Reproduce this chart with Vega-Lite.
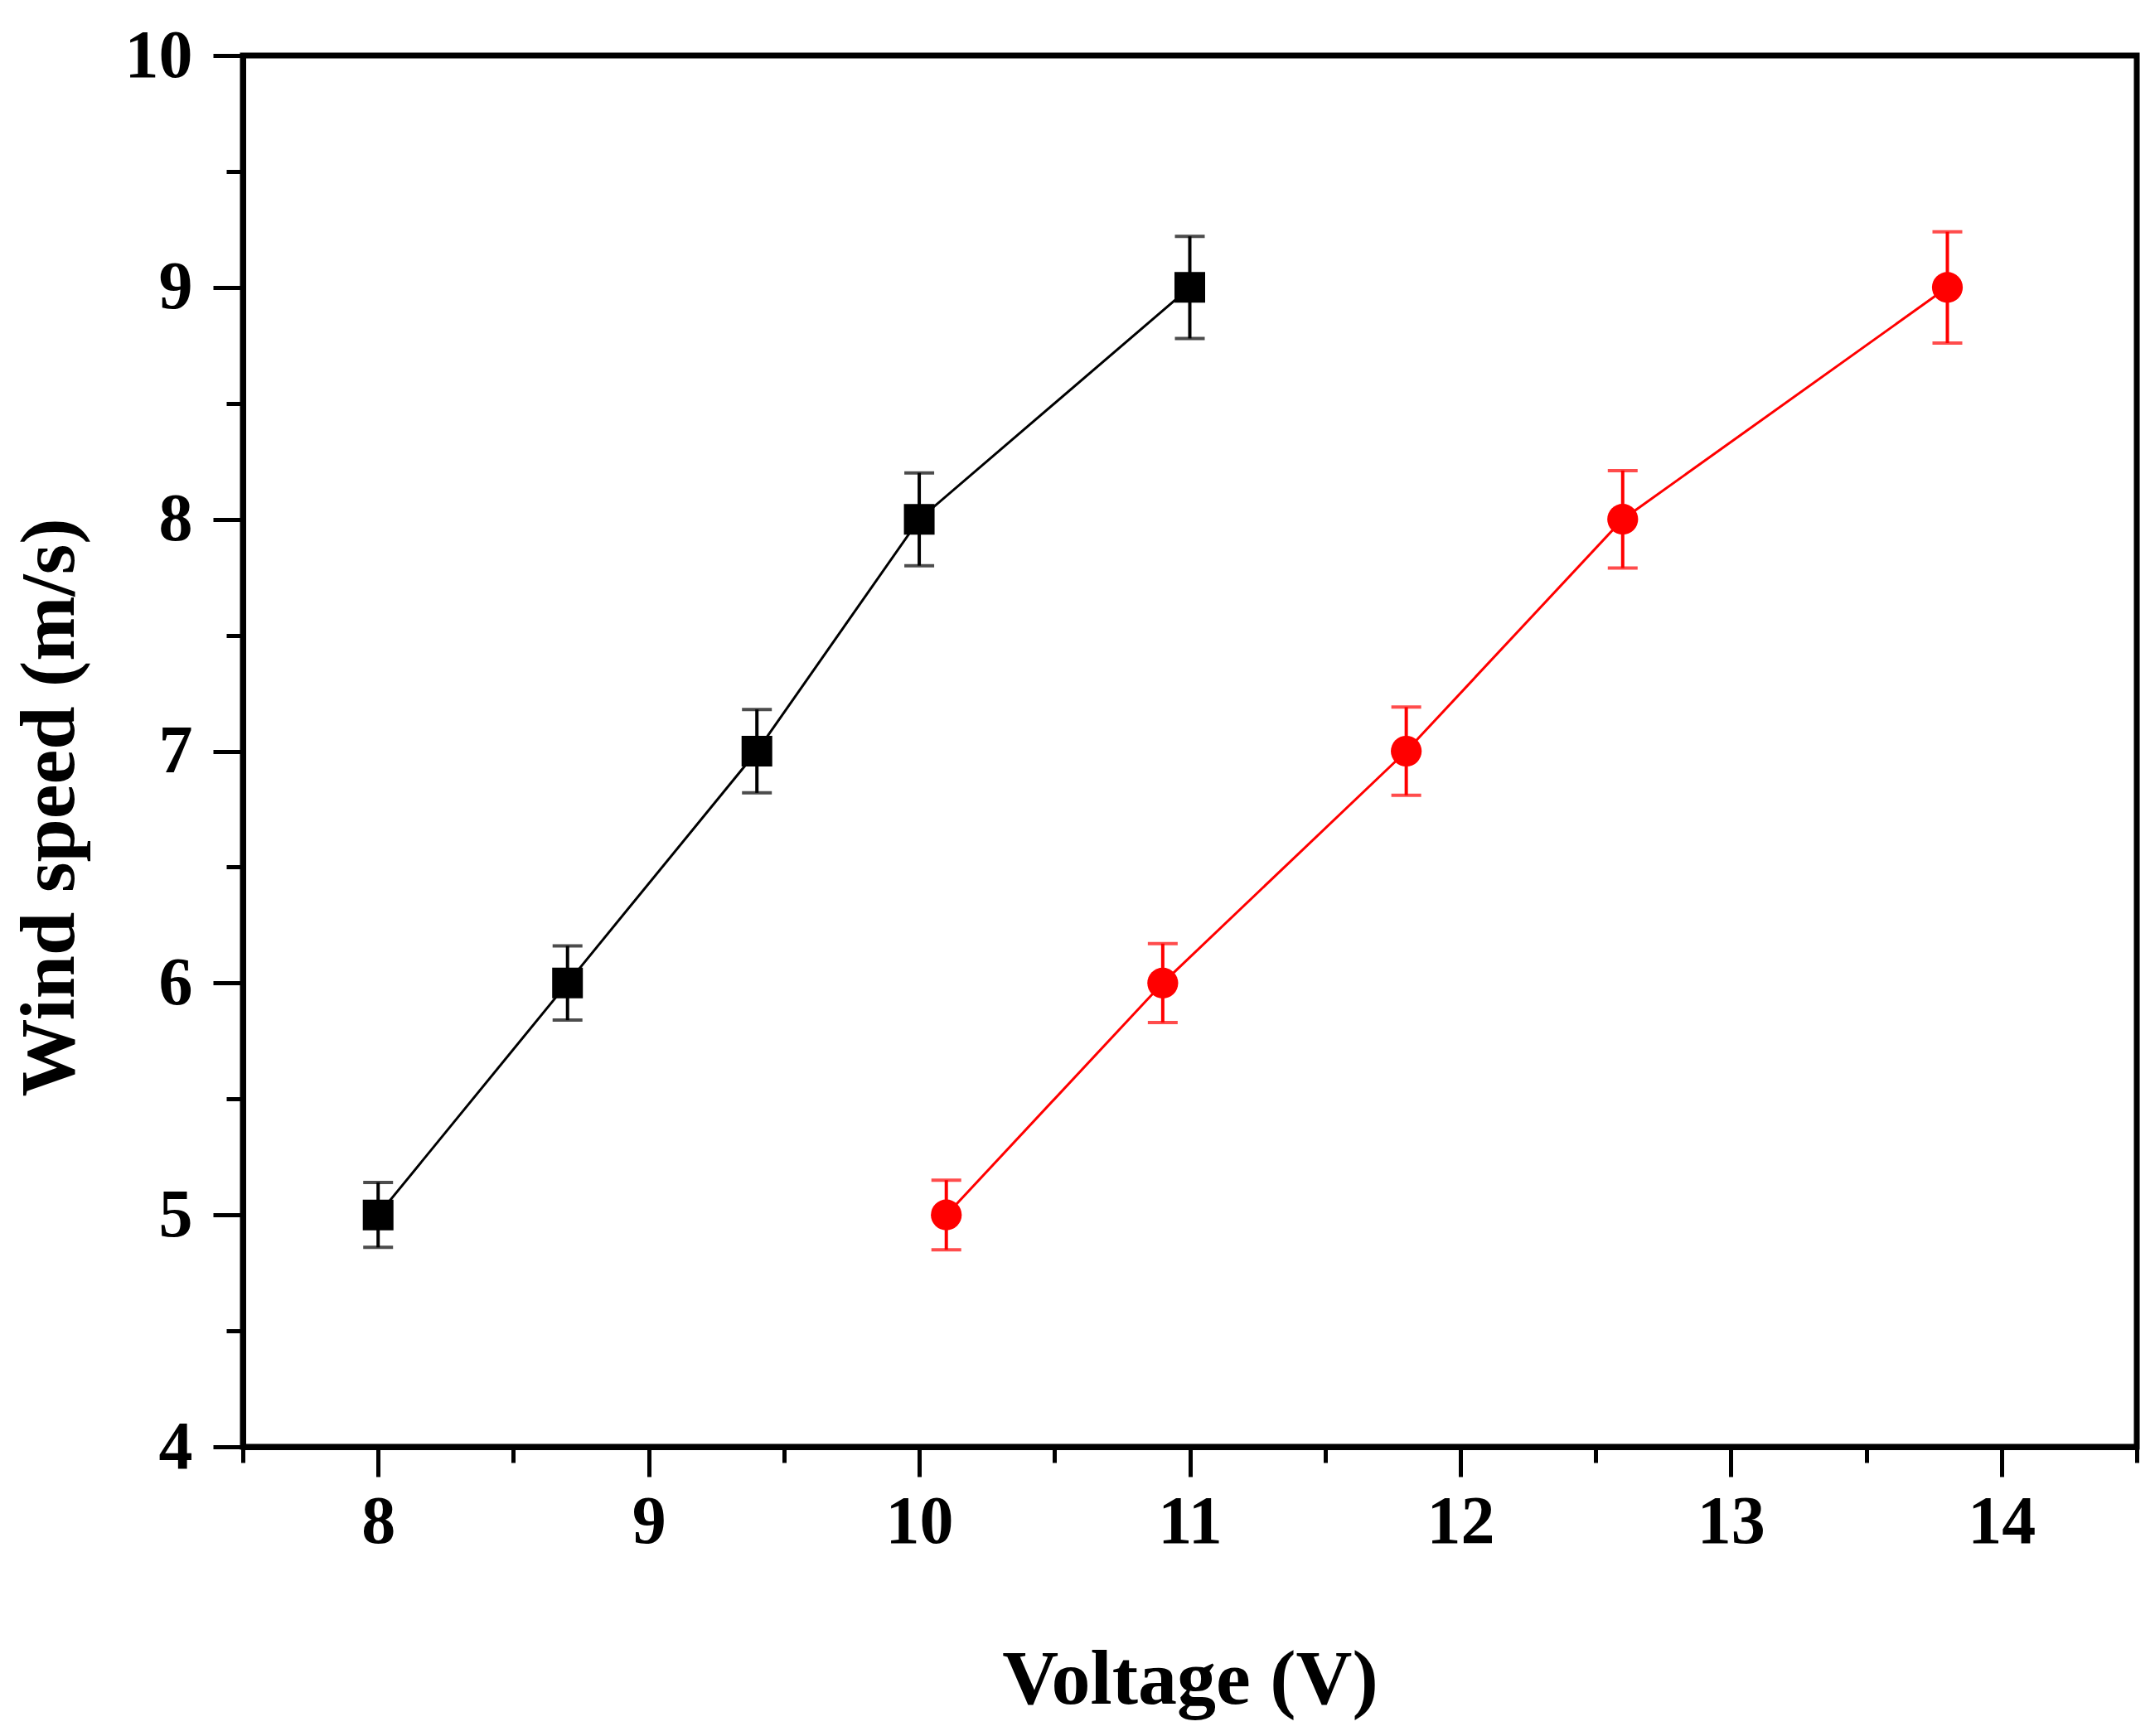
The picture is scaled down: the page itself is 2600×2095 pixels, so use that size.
{
  "$schema": "https://vega.github.io/schema/vega-lite/v6.json",
  "description": "Wind speed vs voltage, two sensors with error bars",
  "width": 2285,
  "height": 1679,
  "autosize": "none",
  "padding": {"left": 293, "top": 67, "right": 22, "bottom": 349},
  "background": "white",
  "config": {
    "view": {"stroke": "black", "strokeWidth": 7},
    "font": "Liberation Serif",
    "axis": {
      "domainColor": "black",
      "domainWidth": 7,
      "tickColor": "black",
      "tickWidth": 5,
      "grid": false,
      "labelFont": "Liberation Serif",
      "labelFontWeight": "bold",
      "labelFontSize": 82,
      "labelColor": "black",
      "titleFont": "Liberation Serif",
      "titleFontWeight": "bold",
      "titleFontSize": 94,
      "titleColor": "black"
    }
  },
  "data": {
    "values": [
      {"series": "A", "voltage": 8.0, "speed": 5, "lo": 4.86, "hi": 5.14},
      {"series": "A", "voltage": 8.7, "speed": 6, "lo": 5.84, "hi": 6.16},
      {"series": "A", "voltage": 9.4, "speed": 7, "lo": 6.82, "hi": 7.18},
      {"series": "A", "voltage": 10.0, "speed": 8, "lo": 7.8, "hi": 8.2},
      {"series": "A", "voltage": 11.0, "speed": 9, "lo": 8.78, "hi": 9.22},
      {"series": "B", "voltage": 10.1, "speed": 5, "lo": 4.85, "hi": 5.15},
      {"series": "B", "voltage": 10.9, "speed": 6, "lo": 5.83, "hi": 6.17},
      {"series": "B", "voltage": 11.8, "speed": 7, "lo": 6.81, "hi": 7.19},
      {"series": "B", "voltage": 12.6, "speed": 8, "lo": 7.79, "hi": 8.21},
      {"series": "B", "voltage": 13.8, "speed": 9, "lo": 8.76, "hi": 9.24}
    ]
  },
  "encoding": {
    "x": {
      "field": "voltage",
      "type": "quantitative",
      "scale": {"domain": [7.5, 14.5], "nice": false, "zero": false},
      "axis": {
        "title": "Voltage (V)",
        "values": [7.5, 8, 8.5, 9, 9.5, 10, 10.5, 11, 11.5, 12, 12.5, 13, 13.5, 14, 14.5],
        "labelExpr": "datum.value % 1 === 0 ? format(datum.value, 'd') : ''",
        "tickSize": {"condition": {"test": "datum.value % 1 === 0", "value": 36}, "value": 19},
        "labelPadding": 14,
        "labelFlush": false,
        "labelOverlap": false,
        "titleY": 309,
        "titleBaseline": "alphabetic"
      }
    },
    "y": {
      "field": "speed",
      "type": "quantitative",
      "scale": {"domain": [4, 10], "nice": false, "zero": false},
      "axis": {
        "title": "Wind speed (m/s)",
        "values": [4, 4.5, 5, 5.5, 6, 6.5, 7, 7.5, 8, 8.5, 9, 9.5, 10],
        "labelExpr": "datum.value % 1 === 0 ? format(datum.value, 'd') : ''",
        "tickSize": {"condition": {"test": "datum.value % 1 === 0", "value": 36}, "value": 20},
        "labelPadding": 25,
        "labelFlush": false,
        "labelOverlap": false,
        "titleX": -205,
        "titleY": 907,
        "titleBaseline": "alphabetic",
        "titleAlign": "center",
        "titleAngle": 270
      }
    },
    "color": {
      "field": "series",
      "type": "nominal",
      "scale": {"domain": ["A", "B"], "range": ["#000000", "#FF0000"]},
      "legend": null
    }
  },
  "layer": [
    {
      "mark": {"type": "line", "strokeWidth": 3}
    },
    {
      "mark": {"type": "rule", "strokeWidth": 4},
      "encoding": {
        "y": {"field": "lo", "type": "quantitative"},
        "y2": {"field": "hi"}
      }
    },
    {
      "mark": {"type": "tick", "orient": "horizontal", "size": 36, "thickness": 4},
      "encoding": {"y": {"field": "lo", "type": "quantitative"}}
    },
    {
      "mark": {"type": "tick", "orient": "horizontal", "size": 36, "thickness": 4},
      "encoding": {"y": {"field": "hi", "type": "quantitative"}}
    },
    {
      "mark": {"type": "point", "filled": true, "opacity": 1},
      "encoding": {
        "shape": {
          "field": "series",
          "type": "nominal",
          "scale": {"domain": ["A", "B"], "range": ["square", "circle"]},
          "legend": null
        },
        "size": {
          "field": "series",
          "type": "nominal",
          "scale": {"domain": ["A", "B"], "range": [1369, 1385]},
          "legend": null
        }
      }
    }
  ]
}
